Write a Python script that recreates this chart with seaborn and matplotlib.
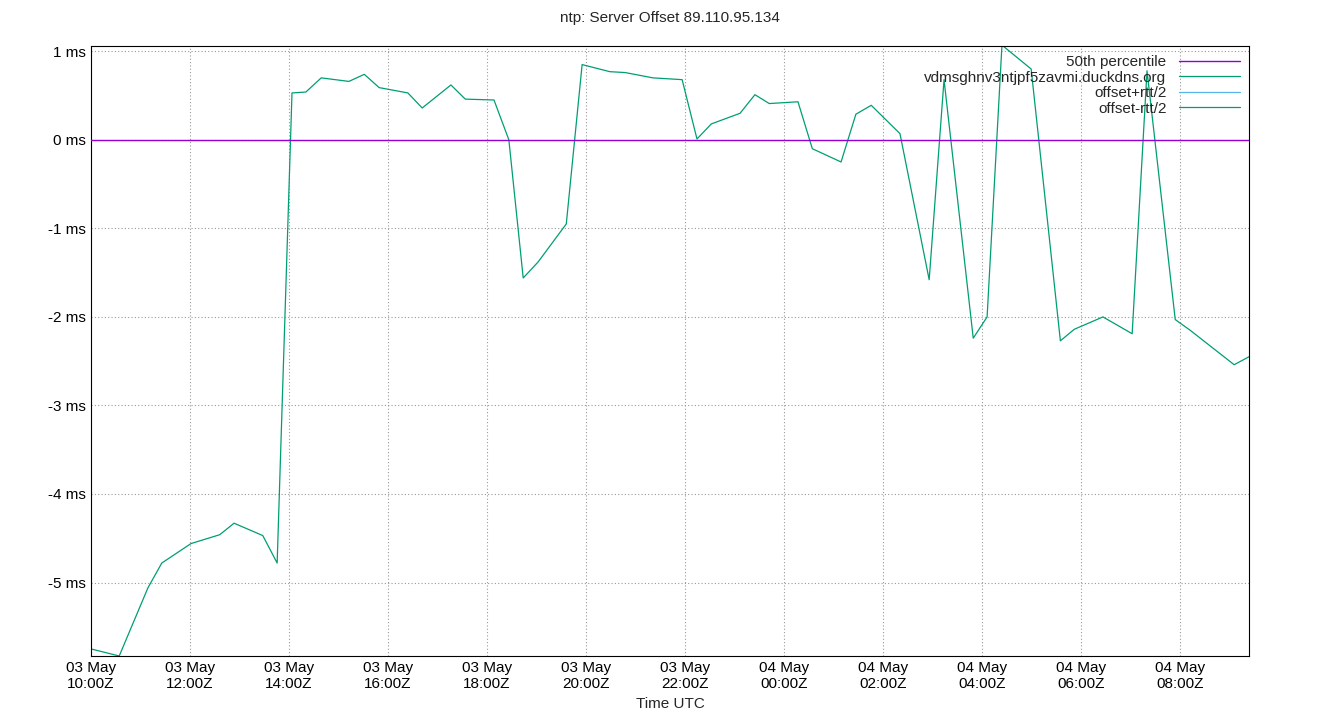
import matplotlib
matplotlib.use("Agg")
import matplotlib.pyplot as plt
import matplotlib.dates as mdates
import seaborn as sns
import pandas as pd
import numpy as np

hours = [0,0.57,1.15,1.43,2.02,2.6,2.89,3.47,3.76,4.06,4.34,4.65,5.21,5.52,5.82,6.4,6.69,7.27,7.56,8.14,8.44,8.73,9.03,9.6,9.92,10.48,10.79,11.35,11.94,12.24,12.53,13.11,13.41,13.7,14.28,14.57,15.15,15.45,15.76,16.34,16.93,17.23,17.82,18.1,18.4,18.99,19.58,19.86,20.44,21.03,21.33,21.9,22.2,23.09,23.39]
offset_ms = [-5.75,-5.83,-5.06,-4.78,-4.56,-4.46,-4.33,-4.47,-4.78,0.53,0.54,0.70,0.66,0.74,0.59,0.53,0.36,0.62,0.46,0.45,0.0,-1.56,-1.38,-0.95,0.85,0.77,0.76,0.70,0.68,0.01,0.18,0.30,0.51,0.41,0.43,-0.10,-0.25,0.29,0.39,0.07,-1.58,0.68,-2.24,-2.0,1.07,0.80,-2.27,-2.14,-2.0,-2.19,0.78,-2.03,-2.15,-2.54,-2.45]
start = pd.Timestamp("2024-05-03 10:00")
times = [start + pd.Timedelta(hours=h) for h in hours]
df = pd.DataFrame({"t": times, "v": offset_ms})
p50 = 0.0

sns.set_style("white")
plt.rcParams['font.family'] = ['Liberation Sans', 'DejaVu Sans']
fig = plt.figure(figsize=(13.4, 7.2), dpi=100)
ax = fig.add_axes([91/1340, 1-656/720, (1249-91)/1340, (656-46)/720])
sns.lineplot(data=df, x="t", y="v", ax=ax, color="#009e73", lw=0.9, label="vdmsghnv3ntjpf5zavmi.duckdns.org")
ax.axhline(p50, color="#9400d3", lw=1.0, label="50th percentile", zorder=3)
ax.plot([], [], color="#56b4e9", lw=0.9, label="offset+rtt/2")
ax.plot([], [], color="#009e73", lw=0.9, label="offset-rtt/2")
h, l = ax.get_legend_handles_labels()
order = [1, 0, 2, 3]
leg = ax.legend([h[i] for i in order], [l[i] for i in order], loc="upper right", frameon=False,
                fontsize=11, markerfirst=False, handlelength=4, borderaxespad=0.2, labelspacing=0.1)
ax.set_xlim(start, start + pd.Timedelta(hours=23.39))
ax.set_ylim(-5.83, 1.06)
ax.set_yticks([1, 0, -1, -2, -3, -4, -5])
ax.set_yticklabels(["1 ms", "0 ms", "-1 ms", "-2 ms", "-3 ms", "-4 ms", "-5 ms"])
ax.xaxis.set_major_locator(mdates.HourLocator(byhour=range(0, 24, 2)))
ax.xaxis.set_major_formatter(mdates.DateFormatter("%d %b\n%H:%MZ"))
ax.xaxis.set_minor_locator(mdates.HourLocator())
ax.tick_params(axis="both", labelsize=11, direction="in", length=5, colors="black")
ax.tick_params(axis="x", which="minor", direction="in", length=3)
ax.grid(True, color="#999999", linestyle=(0, (1, 2)), lw=0.8)
for s in ax.spines.values():
    s.set_color("black"); s.set_linewidth(0.8)
ax.set_xlabel("Time UTC", fontsize=11)
ax.set_ylabel("")
fig.suptitle("ntp: Server Offset 89.110.95.134", y=0.985, fontsize=11)
fig.savefig("out.png", dpi=100)
